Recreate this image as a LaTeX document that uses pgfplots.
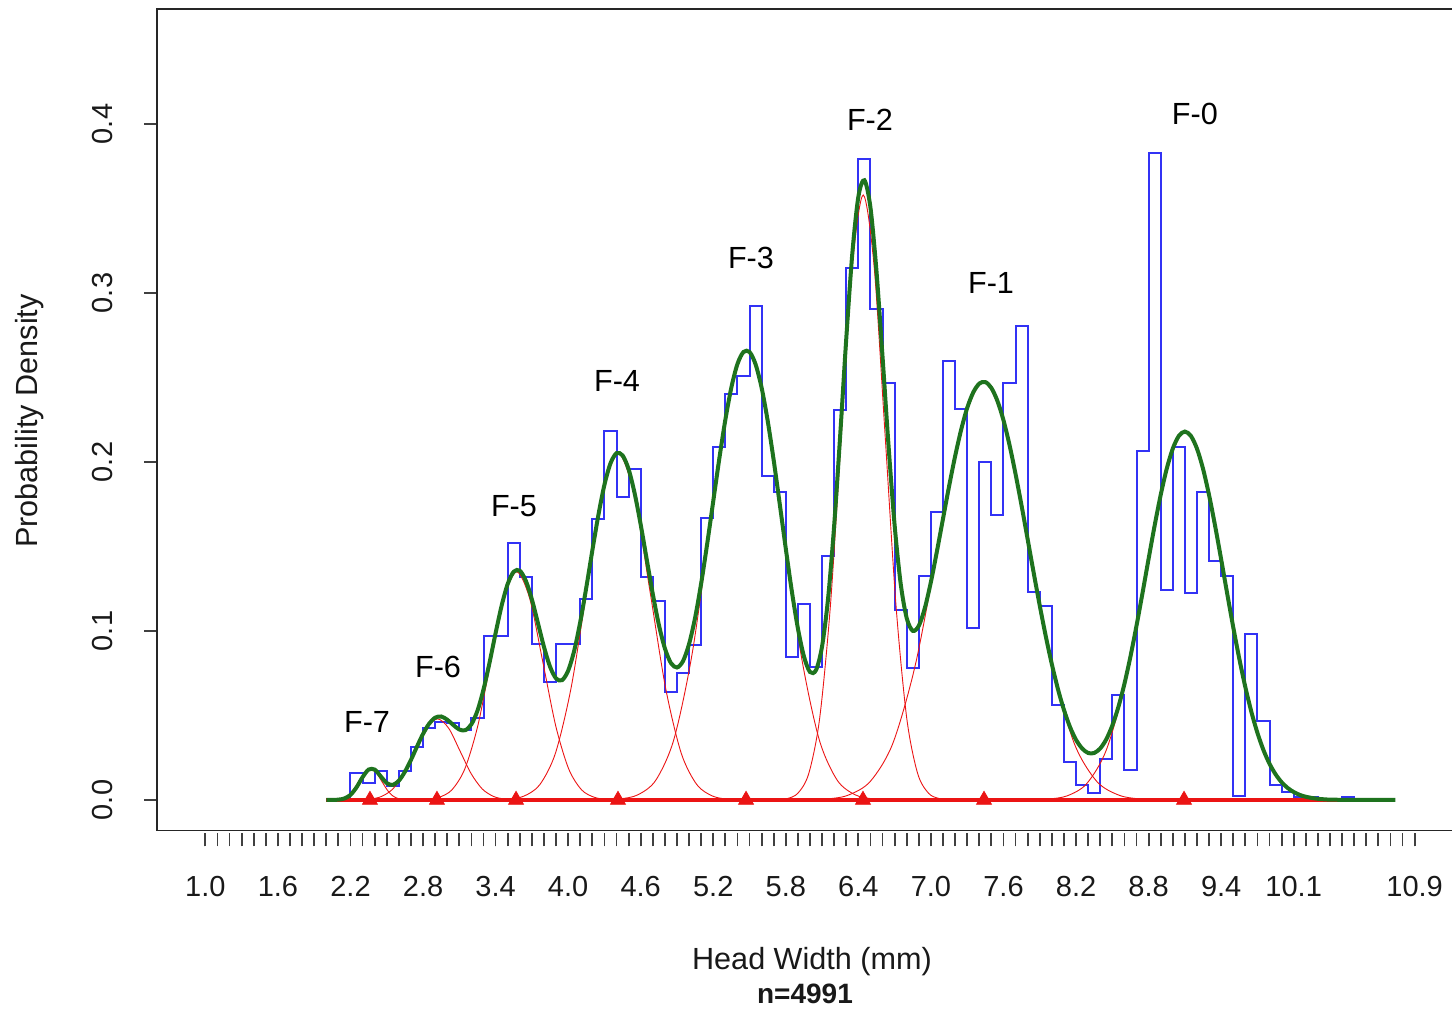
\documentclass[border=0pt]{standalone}
\usepackage{fontspec}
\setmainfont{Liberation Sans}
\usepackage{pgfplots}
\pgfplotsset{compat=1.18}
\definecolor{histblue}{RGB}{50,50,245}
\definecolor{mixgreen}{RGB}{30,115,30}
\definecolor{compred}{RGB}{235,20,20}
\begin{document}
\begin{tikzpicture}
\begin{axis}[
  at={(78.5pt,90.3pt)}, anchor=south west,
  scale only axis, width=653pt, height=410.65pt,
  xmin=0.6, xmax=11.4, ymin=-0.018, ymax=0.468,
  axis line style={black!85, line width=0.8pt},
  tick pos=left, tick align=outside,
  major tick length=6.5pt, minor tick length=6.5pt,
  tick style={black!75, line width=0.9pt},
  every major x tick/.append style={yshift=-1.5pt},
  every minor x tick/.append style={yshift=-1.5pt},
  xtick={1,1.6,2.2,2.8,3.4,4,4.6,5.2,5.8,6.4,7,7.6,8.2,8.8,9.4,10,11},
  xticklabels={1.0,1.6,2.2,2.8,3.4,4.0,4.6,5.2,5.8,6.4,7.0,7.6,8.2,8.8,9.4,10.1,10.9},
  minor xtick={1.0,1.1,...,11.0},
  ytick={0,0.1,0.2,0.3,0.4},
  yticklabels={0.0,0.1,0.2,0.3,0.4},
  tick label style={font=\fontsize{14.5}{17}\selectfont, text=black!90},
  xticklabel style={anchor=base, inner sep=0pt, yshift=-26.8pt},
  yticklabel style={xshift=-20.5pt, rotate=90, anchor=center, inner sep=0pt},
]
% histogram (step outline)
\addplot[const plot, draw=histblue, line width=1pt, line join=miter] coordinates {
(2.2,0) (2.2,0.0160) (2.3,0.0100) (2.4,0.0174) (2.5,0.0080) (2.6,0.0174) (2.7,0.0315) (2.8,0.0424) (2.9,0.0463) (3.0,0.0457) (3.1,0.0414) (3.2,0.0485) (3.3,0.0970) (3.4,0.0970) (3.5,0.1520) (3.6,0.1320) (3.7,0.0923) (3.8,0.0700) (3.9,0.0923) (4.0,0.0923) (4.1,0.1187) (4.2,0.1660) (4.3,0.2184) (4.4,0.1790) (4.5,0.1960) (4.6,0.1320) (4.7,0.1180) (4.8,0.0640) (4.9,0.0750) (5.0,0.0920) (5.1,0.1666) (5.2,0.2086) (5.3,0.2405) (5.4,0.2508) (5.5,0.2925) (5.6,0.1920) (5.7,0.1820) (5.8,0.0848) (5.9,0.1160) (6.0,0.0785) (6.1,0.1445) (6.2,0.2305) (6.3,0.3150) (6.4,0.3790) (6.5,0.2907) (6.6,0.2468) (6.7,0.1124) (6.8,0.0780) (6.9,0.1326) (7.0,0.1705) (7.1,0.2600) (7.2,0.2312) (7.3,0.1020) (7.4,0.2002) (7.5,0.1685) (7.6,0.2467) (7.7,0.2806) (7.8,0.1228) (7.9,0.1145) (8.0,0.0562) (8.1,0.0223) (8.2,0.0086) (8.3,0.0042) (8.4,0.0242) (8.5,0.0622) (8.6,0.0178) (8.7,0.2063) (8.8,0.3826) (8.9,0.1243) (9.0,0.2088) (9.1,0.1222) (9.2,0.1823) (9.3,0.1417) (9.4,0.1323) (9.5,0.0022) (9.6,0.0985) (9.7,0.0465) (9.8,0.0088) (9.9,0.0045) (10.0,0.0020) (10.1,0.0020) (10.2,0.0000) (10.3,0.0000) (10.4,0.0020) (10.5,0.0020) (10.5,0)
};
% mixture components
\addplot[compred, line width=0.45pt, smooth] coordinates {
(2.010,0.0000) (2.055,0.0000) (2.100,0.0002) (2.145,0.0008) (2.190,0.0024) (2.235,0.0058) (2.280,0.0109) (2.325,0.0159) (2.370,0.0180) (2.415,0.0159) (2.460,0.0109) (2.505,0.0058) (2.550,0.0024) (2.595,0.0008) (2.640,0.0002) (2.685,0.0000) (2.730,0.0000)};
\addplot[compred, line width=0.45pt, smooth] coordinates {
(2.1800,0.0000) (2.2725,0.0001) (2.3650,0.0005) (2.4575,0.0021) (2.5500,0.0065) (2.6425,0.0156) (2.7350,0.0291) (2.8275,0.0424) (2.9200,0.0480) (3.0125,0.0424) (3.1050,0.0291) (3.1975,0.0156) (3.2900,0.0065) (3.3825,0.0021) (3.4750,0.0005) (3.5675,0.0001) (3.6600,0.0000)};
\addplot[compred, line width=0.45pt, smooth] coordinates {
(2.7150,0.0000) (2.8225,0.0003) (2.9300,0.0015) (3.0375,0.0059) (3.1450,0.0183) (3.2525,0.0438) (3.3600,0.0819) (3.4675,0.1191) (3.5750,0.1350) (3.6825,0.1191) (3.7900,0.0819) (3.8975,0.0438) (4.0050,0.0183) (4.1125,0.0059) (4.2200,0.0015) (4.3275,0.0003) (4.4350,0.0000)};
\addplot[compred, line width=0.45pt, smooth] coordinates {
(3.375,0.0001) (3.505,0.0004) (3.635,0.0023) (3.765,0.0090) (3.895,0.0277) (4.025,0.0666) (4.155,0.1243) (4.285,0.1809) (4.415,0.2050) (4.545,0.1809) (4.675,0.1243) (4.805,0.0666) (4.935,0.0277) (5.065,0.0090) (5.195,0.0023) (5.325,0.0004) (5.455,0.0001)};
\addplot[compred, line width=0.45pt, smooth] coordinates {
(4.275,0.0001) (4.425,0.0006) (4.575,0.0030) (4.725,0.0117) (4.875,0.0360) (5.025,0.0864) (5.175,0.1613) (5.325,0.2347) (5.475,0.2660) (5.625,0.2347) (5.775,0.1613) (5.925,0.0864) (6.075,0.0360) (6.225,0.0117) (6.375,0.0030) (6.525,0.0006) (6.675,0.0001)};
\addplot[compred, line width=0.45pt, smooth] coordinates {
(5.72,0.0001) (5.81,0.0008) (5.90,0.0040) (5.99,0.0157) (6.08,0.0484) (6.17,0.1162) (6.26,0.2171) (6.35,0.3159) (6.44,0.3580) (6.53,0.3159) (6.62,0.2171) (6.71,0.1162) (6.80,0.0484) (6.89,0.0157) (6.98,0.0040) (7.07,0.0008) (7.16,0.0001)};
\addplot[compred, line width=0.45pt, smooth] coordinates {
(5.9350,0.0001) (6.1225,0.0005) (6.3100,0.0027) (6.4975,0.0109) (6.6850,0.0335) (6.8725,0.0804) (7.0600,0.1501) (7.2475,0.2184) (7.4350,0.2475) (7.6225,0.2184) (7.8100,0.1501) (7.9975,0.0804) (8.1850,0.0335) (8.3725,0.0109) (8.5600,0.0027) (8.7475,0.0005) (8.9350,0.0001)};
\addplot[compred, line width=0.45pt, smooth] coordinates {
(7.8000,0.0001) (7.9625,0.0005) (8.1250,0.0024) (8.2875,0.0096) (8.4500,0.0295) (8.6125,0.0708) (8.7750,0.1322) (8.9375,0.1924) (9.1000,0.2180) (9.2625,0.1924) (9.4250,0.1322) (9.5875,0.0708) (9.7500,0.0295) (9.9125,0.0096) (10.0750,0.0024) (10.2375,0.0005) (10.4000,0.0001)};
% red baseline
\addplot[compred, line width=2.3pt] coordinates {(2.0,0) (10.84,0)};
% total mixture density
\addplot[mixgreen, line width=2pt, smooth] coordinates {
(2.00,0.0000) (2.05,0.0000) (2.10,0.0002) (2.15,0.0009) (2.20,0.0030) (2.25,0.0075) (2.30,0.0135) (2.35,0.0180) (2.40,0.0180) (2.45,0.0140) (2.50,0.0100) (2.55,0.0089) (2.60,0.0114) (2.65,0.0167) (2.70,0.0237) (2.75,0.0316) (2.80,0.0391) (2.85,0.0451) (2.90,0.0487) (2.95,0.0494) (3.00,0.0475) (3.05,0.0444) (3.10,0.0417) (3.15,0.0413) (3.20,0.0448) (3.25,0.0528) (3.30,0.0654) (3.35,0.0813) (3.40,0.0987) (3.45,0.1150) (3.50,0.1278) (3.55,0.1351) (3.60,0.1357) (3.65,0.1297) (3.70,0.1187) (3.75,0.1047) (3.80,0.0906) (3.85,0.0789) (3.90,0.0719) (3.95,0.0709) (4.00,0.0765) (4.05,0.0883) (4.10,0.1053) (4.15,0.1257) (4.20,0.1476) (4.25,0.1686) (4.30,0.1865) (4.35,0.1992) (4.40,0.2052) (4.45,0.2039) (4.50,0.1957) (4.55,0.1814) (4.60,0.1629) (4.65,0.1423) (4.70,0.1219) (4.75,0.1037) (4.80,0.0897) (4.85,0.0810) (4.90,0.0784) (4.95,0.0822) (5.00,0.0923) (5.05,0.1079) (5.10,0.1282) (5.15,0.1517) (5.20,0.1769) (5.25,0.2020) (5.30,0.2250) (5.35,0.2442) (5.40,0.2580) (5.45,0.2651) (5.50,0.2651) (5.55,0.2578) (5.60,0.2439) (5.65,0.2244) (5.70,0.2009) (5.75,0.1750) (5.80,0.1486) (5.85,0.1234) (5.90,0.1015) (5.95,0.0849) (6.00,0.0757) (6.05,0.0769) (6.10,0.0910) (6.15,0.1196) (6.20,0.1626) (6.25,0.2162) (6.30,0.2732) (6.35,0.3235) (6.40,0.3570) (6.45,0.3667) (6.50,0.3505) (6.55,0.3127) (6.60,0.2621) (6.65,0.2091) (6.70,0.1624) (6.75,0.1279) (6.80,0.1075) (6.85,0.1001) (6.90,0.1031) (6.95,0.1137) (7.00,0.1291) (7.05,0.1473) (7.10,0.1665) (7.15,0.1856) (7.20,0.2034) (7.25,0.2191) (7.30,0.2320) (7.35,0.2412) (7.40,0.2464) (7.45,0.2473) (7.50,0.2438) (7.55,0.2361) (7.60,0.2247) (7.65,0.2100) (7.70,0.1928) (7.75,0.1740) (7.80,0.1542) (7.85,0.1343) (7.90,0.1150) (7.95,0.0968) (8.00,0.0803) (8.05,0.0657) (8.10,0.0533) (8.15,0.0432) (8.20,0.0356) (8.25,0.0305) (8.30,0.0278) (8.35,0.0278) (8.40,0.0305) (8.45,0.0359) (8.50,0.0441) (8.55,0.0550) (8.60,0.0687) (8.65,0.0849) (8.70,0.1031) (8.75,0.1226) (8.80,0.1427) (8.85,0.1624) (8.90,0.1805) (8.95,0.1960) (9.00,0.2079) (9.05,0.2154) (9.10,0.2180) (9.15,0.2154) (9.20,0.2079) (9.25,0.1960) (9.30,0.1804) (9.35,0.1622) (9.40,0.1424) (9.45,0.1221) (9.50,0.1022) (9.55,0.0836) (9.60,0.0668) (9.65,0.0521) (9.70,0.0397) (9.75,0.0295) (9.80,0.0214) (9.85,0.0152) (9.90,0.0105) (9.95,0.0071) (10.00,0.0047) (10.05,0.0030) (10.10,0.0019) (10.15,0.0012) (10.20,0.0007) (10.25,0.0004) (10.30,0.0002) (10.40,0.0001) (10.50,0.0000) (10.84,0.0000)};
% component means
\addplot[only marks, mark=triangle*, mark size=4.3pt, color=compred, fill=compred] coordinates {
(2.361,0) (2.915,0) (3.569,0) (4.412,0) (5.471,0) (6.438,0) (7.439,0) (9.093,0)};
% labels
\begin{scope}[every node/.style={font=\fontsize{15.3}{18}\selectfont, text=black}]
\node at (axis cs:2.337,0.0462) {F-7};
\node at (axis cs:2.924,0.0787) {F-6};
\node at (axis cs:3.552,0.1740) {F-5};
\node at (axis cs:4.404,0.2480) {F-4};
\node at (axis cs:5.512,0.3207) {F-3};
\node at (axis cs:6.496,0.4024) {F-2};
\node at (axis cs:7.497,0.3060) {F-1};
\node at (axis cs:9.183,0.4060) {F-0};
\end{scope}
\end{axis}
\node[rotate=90, font=\fontsize{15.3}{18}\selectfont, text=black!90] at (15pt,295pt) {Probability Density};
\node[font=\fontsize{15.3}{18}\selectfont, text=black!90] at (406pt,24.5pt) {Head Width (mm)};
\node[font=\bfseries\fontsize{14}{17}\selectfont, text=black!90] at (402.5pt,8.5pt) {n=4991};
\pgfresetboundingbox
\path (0pt,0pt) rectangle (726pt,505.5pt);
\end{tikzpicture}
\end{document}
